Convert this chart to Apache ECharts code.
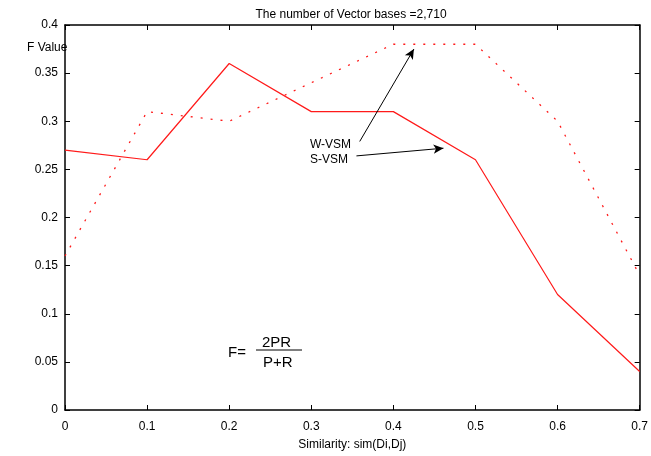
<!DOCTYPE html>
<html>
<head>
<meta charset="utf-8">
<script src="https://cdn.jsdelivr.net/npm/echarts@6/dist/echarts.min.js"></script>
<style>
html,body{margin:0;padding:0;background:#fff;}
#chart{width:651px;height:456px;}
</style>
</head>
<body>
<div id="chart"></div>
<script>
var similarity = [0, 0.1, 0.2, 0.3, 0.4, 0.5, 0.6, 0.7];
var sVSM = [0.27, 0.26, 0.36, 0.31, 0.31, 0.26, 0.12, 0.04];
var wVSM = [0.16, 0.31, 0.30, 0.34, 0.38, 0.38, 0.30, 0.14];
var titleText = 'The number of Vector bases =2,710';
var xName = 'Similarity: sim(Di,Dj)';
var yName = 'F Value';
// annotation arrows in data coordinates: [fromX, fromY, toX, toY]
var arrowW = [0.359, 0.279, 0.425, 0.375];
var arrowS = [0.355, 0.264, 0.461, 0.272];

var FONT = '"Liberation Sans", Arial, sans-serif';
var chart = echarts.init(document.getElementById('chart'), null, {renderer: 'canvas'});

function pairs(xs, ys) { return xs.map(function (x, i) { return [x, ys[i]]; }); }

var axisLine = {show: true, onZero: false, lineStyle: {color: '#000', width: 1.5}};
var tick = {show: true, inside: true, length: 5, lineStyle: {color: '#000', width: 1}};
var option = {
  animation: false,
  backgroundColor: '#fff',
  title: [
    {text: titleText, left: 346, textAlign: 'center', top: 4,
     textStyle: {fontFamily: FONT, fontSize: 12, fontWeight: 'normal', color: '#000'}},
    {text: yName, left: 22, top: 37,
     textStyle: {fontFamily: FONT, fontSize: 12, fontWeight: 'normal', color: '#000'}}
  ],
  grid: {left: 65, right: 9, top: 25, bottom: 41, containLabel: false},
  xAxis: [
    {type: 'value', min: 0, max: 0.7, interval: 0.1, position: 'bottom',
     name: xName, nameLocation: 'middle', nameGap: 29,
     nameTextStyle: {fontFamily: FONT, fontSize: 12, color: '#000'},
     axisLine: axisLine, axisTick: tick,
     axisLabel: {fontFamily: FONT, fontSize: 12, color: '#000', margin: 11},
     splitLine: {show: false}},
    {type: 'value', min: 0, max: 0.7, interval: 0.1, position: 'top',
     axisLine: axisLine, axisTick: tick,
     axisLabel: {show: false}, splitLine: {show: false}}
  ],
  yAxis: [
    {type: 'value', min: 0, max: 0.4, interval: 0.05, position: 'left',
     axisLine: axisLine, axisTick: tick,
     axisLabel: {fontFamily: FONT, fontSize: 12, color: '#000', margin: 7},
     splitLine: {show: false}},
    {type: 'value', min: 0, max: 0.4, interval: 0.05, position: 'right',
     axisLine: axisLine, axisTick: tick,
     axisLabel: {show: false}, splitLine: {show: false}}
  ],
  series: [
    {name: 'S-VSM', type: 'line', data: pairs(similarity, sVSM),
     showSymbol: false, lineStyle: {color: '#ff1a1a', width: 1.2}, z: 3,
     markLine: {
       silent: true, symbol: ['none', 'arrow'], symbolSize: [7, 10],
       label: {show: false},
       lineStyle: {color: '#000', width: 1, type: 'solid'},
       data: [
         [{coord: [arrowW[0], arrowW[1]]}, {coord: [arrowW[2], arrowW[3]]}],
         [{coord: [arrowS[0], arrowS[1]]}, {coord: [arrowS[2], arrowS[3]]}]
       ]
     }},
    {name: 'W-VSM', type: 'line', data: pairs(similarity, wVSM),
     showSymbol: false, lineStyle: {color: '#ff1a1a', width: 1.3, type: [2, 8]}, z: 3}
  ],
  graphic: [
    {type: 'text', left: 310, top: 139, style: {text: 'W-VSM', font: '12px ' + FONT, fill: '#000'}},
    {type: 'text', left: 310, top: 154, style: {text: 'S-VSM', font: '12px ' + FONT, fill: '#000'}},
    {type: 'text', left: 228, top: 345, style: {text: 'F=', font: '15px ' + FONT, fill: '#000'}},
    {type: 'text', left: 262, top: 335, style: {text: '2PR', font: '15px ' + FONT, fill: '#000'}},
    {type: 'line', shape: {x1: 256, y1: 350, x2: 302, y2: 350}, style: {stroke: '#000', lineWidth: 1}},
    {type: 'text', left: 263, top: 355, style: {text: 'P+R', font: '15px ' + FONT, fill: '#000'}}
  ]
};
chart.setOption(option);
</script>
</body>
</html>
